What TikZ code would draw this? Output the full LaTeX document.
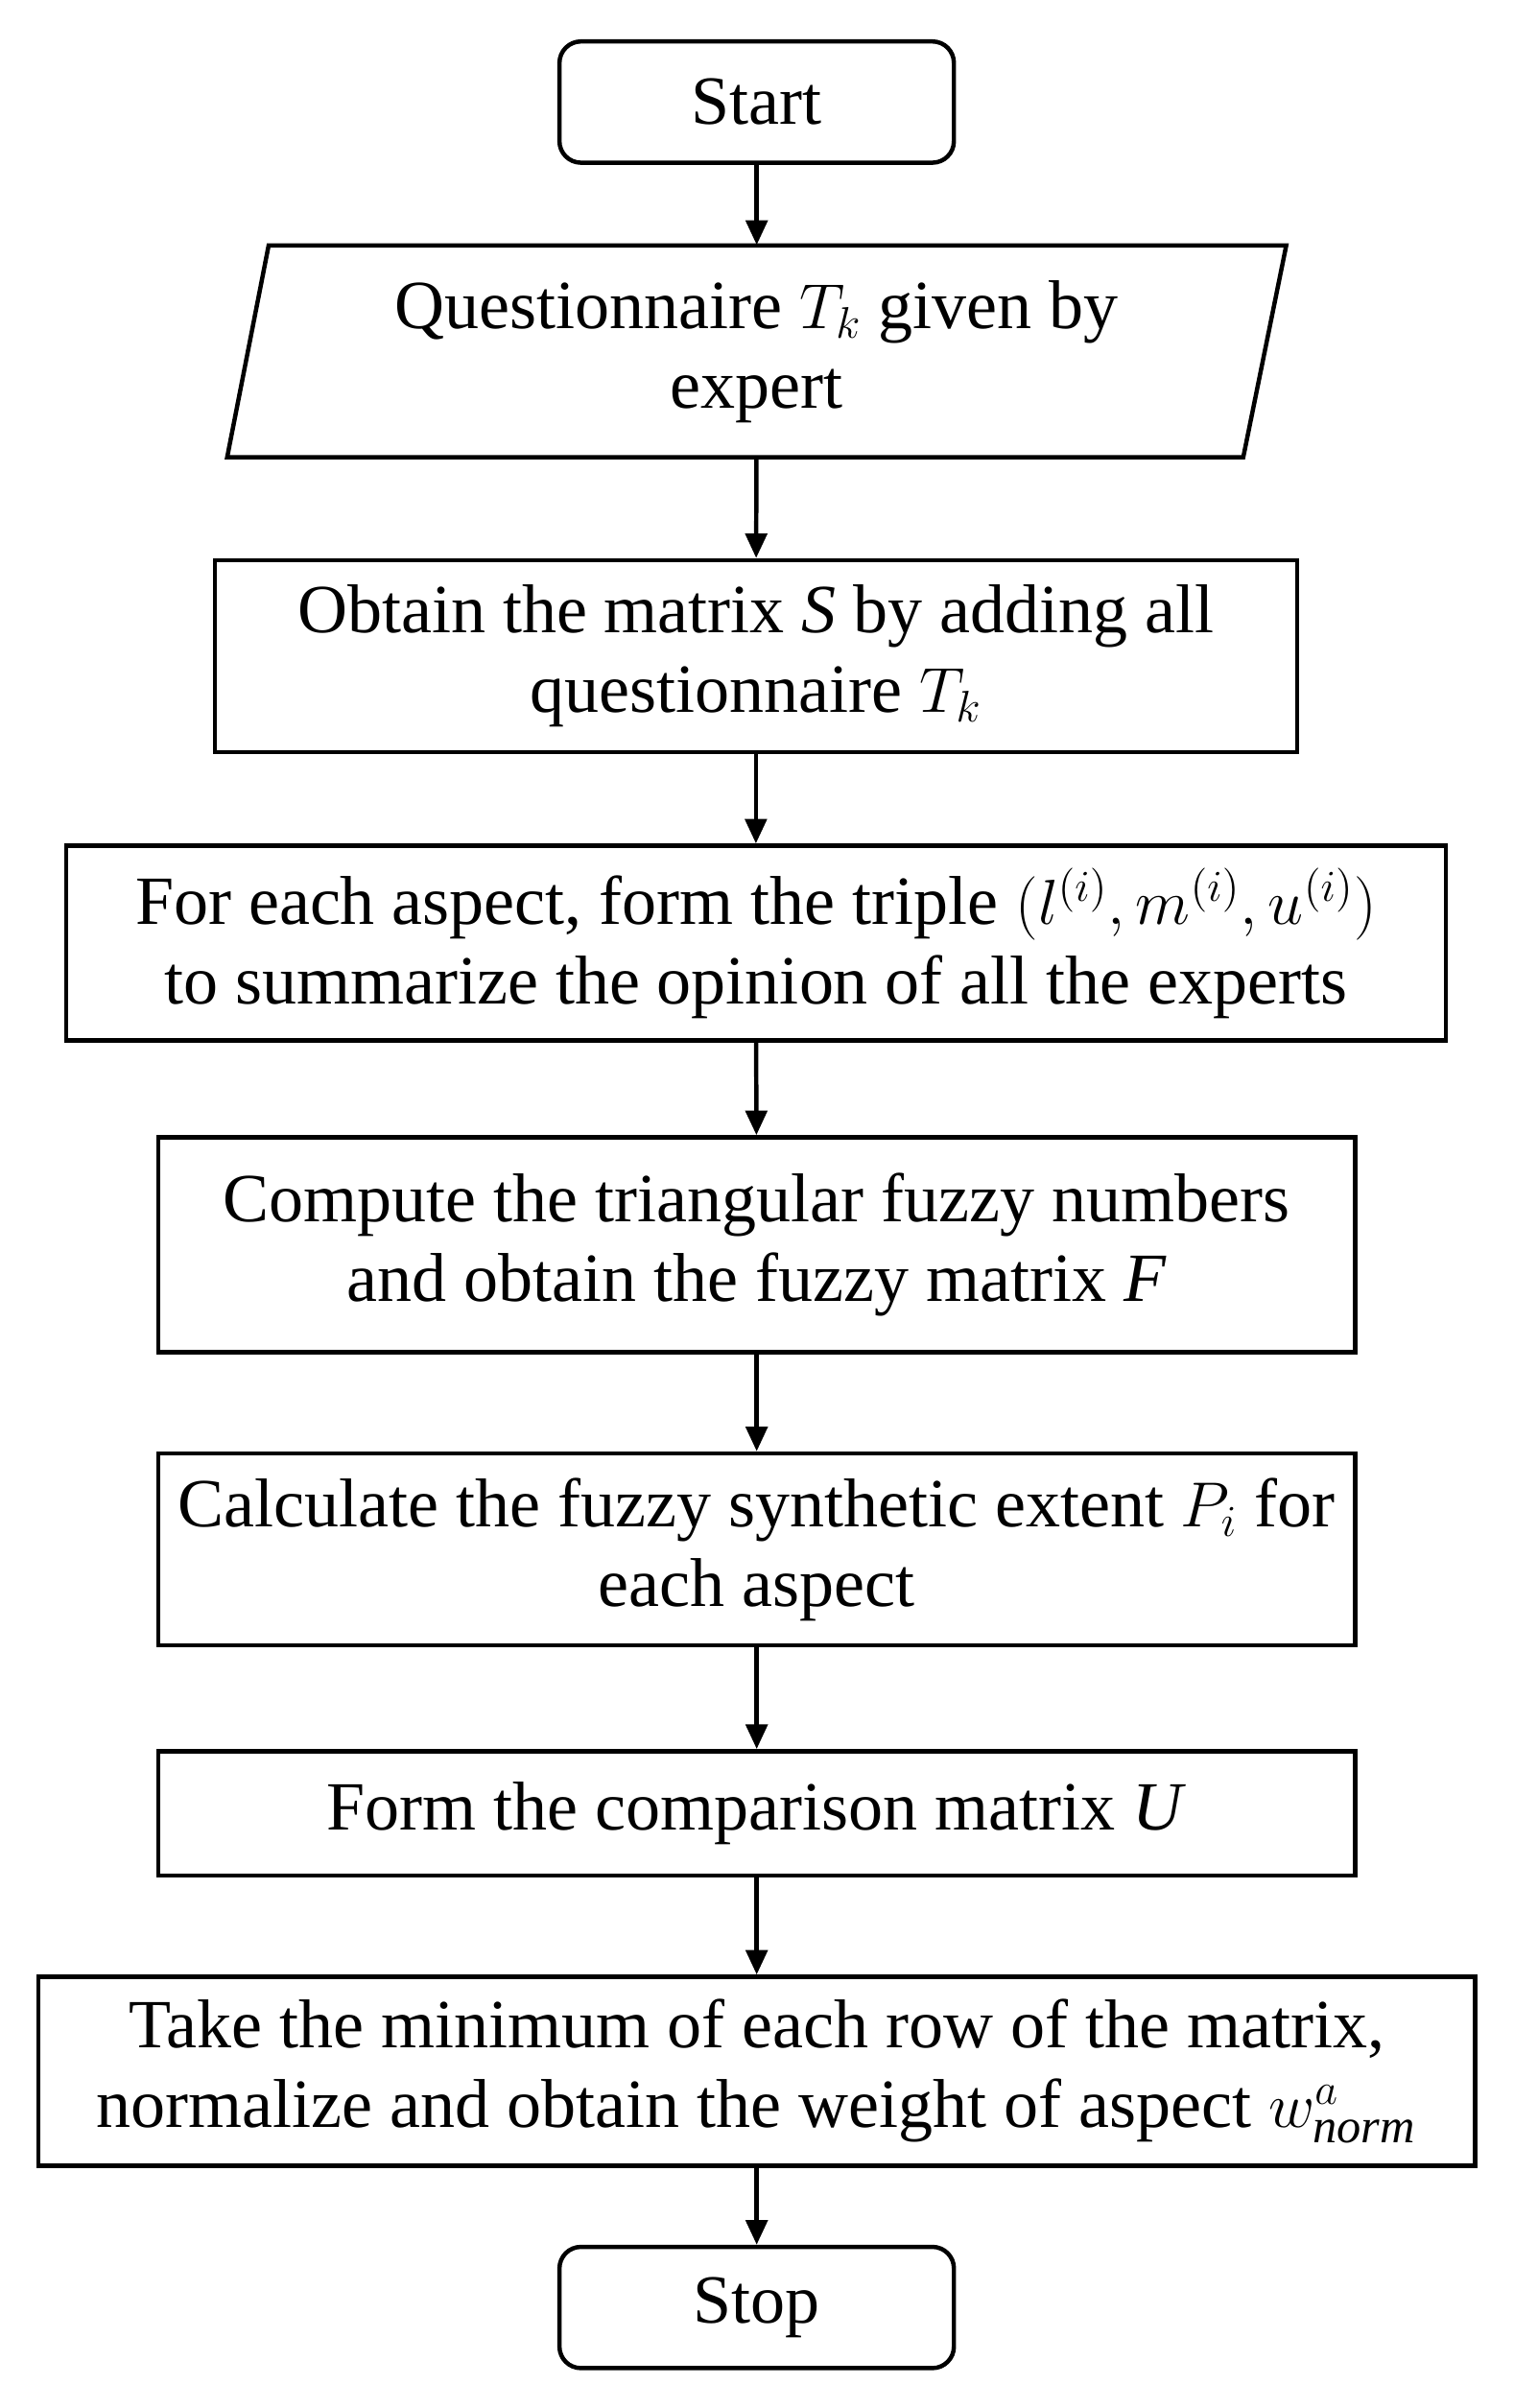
\documentclass[tikz,border=0pt]{standalone}
\usepackage{fontspec}
\setmainfont{Liberation Serif}
\usetikzlibrary{arrows.meta}
\begin{document}
\begin{tikzpicture}[x=0.5pt,y=-0.5pt,
  every node/.style={font=\fontsize{22.5}{26}\selectfont, align=center, inner sep=0pt},
  box/.style={draw, line width=1.4pt},
  term/.style={box, rounded corners=7pt},
  arr/.style={line width=1.4pt, -{Triangle[length=8pt,width=7pt]}}]
\useasboundingbox (0,0) rectangle (986,1569);
\node[term, minimum width=128.5pt, minimum height=39.5pt] (start) at (493,66.5) {Start};
\draw[line width=1.4pt] (175,160) -- (838,160) -- (810,298) -- (148,298) -- cycle;
\node[minimum width=300pt, minimum height=69pt] (q) at (493,229) {Questionnaire $T_k$ given by\\expert};
\node[box, minimum width=352.5pt, minimum height=62.5pt] (s) at (492.5,427.5) {Obtain the matrix \textit{S} by adding all\\questionnaire $T_k$};
\node[box, minimum width=449.5pt, minimum height=63.5pt] (t) at (492.5,614.5) {For each aspect, form the triple $(l^{(i)},m^{(i)},u^{(i)})$\\to summarize the opinion of all the experts};
\node[box, minimum width=390pt, minimum height=70pt] (f) at (493,811) {Compute the triangular fuzzy numbers\\and obtain the fuzzy matrix \textit{F}};
\node[box, minimum width=390pt, minimum height=62.5pt] (c) at (493,1009.5) {Calculate the fuzzy synthetic extent $P_i$ for\\each aspect};
\node[box, minimum width=390pt, minimum height=40.5pt] (u) at (493,1181.5) {Form the comparison matrix \textit{U}};
\node[box, minimum width=468pt, minimum height=61.5pt] (m) at (493,1349.5) {Take the minimum of each row of the matrix,\\normalize and obtain the weight of aspect $w^{a}_{\mathit{norm}}$};
\node[term, minimum width=128.5pt, minimum height=39.5pt] (stop) at (493,1503.5) {Stop};
\draw[arr] (start) -- (q);
\draw[arr] (q) -- (s);
\draw[arr] (s) -- (t);
\draw[arr] (t) -- (f);
\draw[arr] (f) -- (c);
\draw[arr] (c) -- (u);
\draw[arr] (u) -- (m);
\draw[arr] (m) -- (stop);
\end{tikzpicture}
\end{document}
